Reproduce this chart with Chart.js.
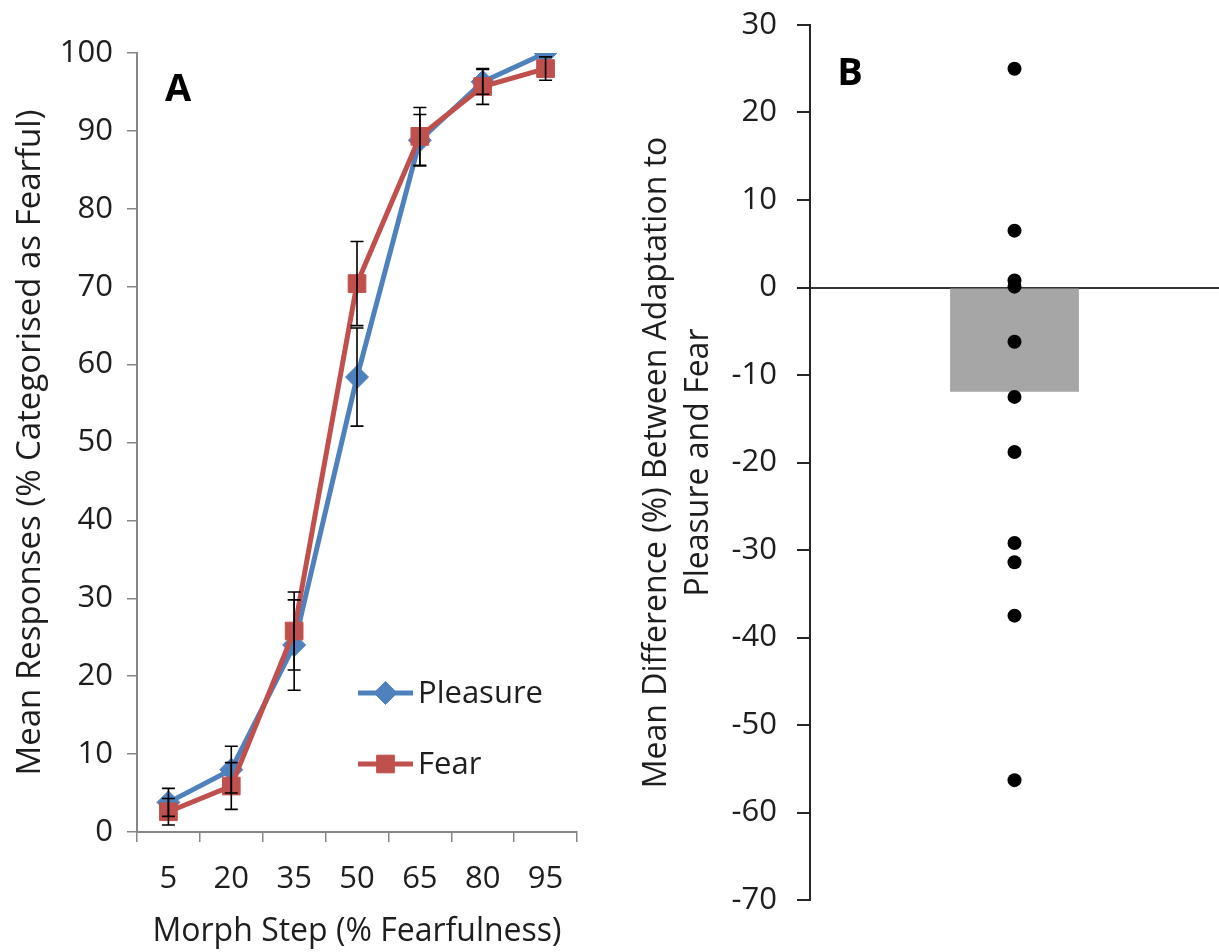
<!DOCTYPE html>
<html>
<head>
<meta charset="utf-8">
<title>Morph categorisation and adaptation difference</title>
<script src="https://cdn.jsdelivr.net/npm/chart.js@4/dist/chart.umd.min.js"></script>
<style>
  html, body { margin: 0; padding: 0; background: #fff; overflow: hidden; }
  #boxA { position: absolute; left: 0; top: 0; width: 610px; height: 952px; }
  #boxB { position: absolute; left: 620px; top: 0; width: 606px; height: 952px; }
</style>
</head>
<body>
<div id="boxA"><canvas id="chartA"></canvas></div>
<div id="boxB"><canvas id="chartB"></canvas></div>
<script>
// panel A: categorisation curves
const morphSteps = ['5', '20', '35', '50', '65', '80', '95'];
const pleasure = [3.8, 8.0, 24.0, 58.4, 88.8, 96.3, 100];
const pleasureErr = [1.8, 3.0, 5.8, 6.3, 3.3, 1.6, 0];
const fear = [2.6, 5.9, 25.8, 70.4, 89.3, 95.7, 98.0];
const fearErr = [1.7, 3.0, 5.0, 5.4, 3.7, 2.3, 1.5];
const responseTicks = [0, 10, 20, 30, 40, 50, 60, 70, 80, 90, 100];

// panel B: per-participant differences and their mean
const diffGroup = ['diff'];
const meanDiff = [-11.9];
const participantDiffs = [25, 6.5, 0.8, 0.1, -6.2, -12.5, -18.8, -29.2, -31.4, -37.5, -56.3];
const diffTicks = [30, 20, 10, 0, -10, -20, -30, -40, -50, -60, -70];

const BLUE = '#4F81BD';
const RED = '#C0504D';
const TEXT = '#1e1e1e';
const FONT = "'Open Sans', sans-serif";

Chart.defaults.font.family = FONT;
Chart.defaults.color = TEXT;
Chart.defaults.animation = false;
Chart.defaults.responsive = true;
Chart.defaults.maintainAspectRatio = false;

// vertical error bars with caps, one set per dataset
const errorBars = {
  id: 'errorBars',
  afterDatasetsDraw(chart, args, opts) {
    const ctx = chart.ctx;
    const xs = chart.scales.x, ys = chart.scales.y;
    ctx.save();
    ctx.strokeStyle = opts.color;
    ctx.lineWidth = opts.width;
    opts.sets.forEach(set => {
      set.values.forEach((v, i) => {
        const e = set.errors[i];
        if (!e) return;
        const x = xs.getPixelForValue(i);
        const top = ys.getPixelForValue(v + e);
        const bot = ys.getPixelForValue(v - e);
        ctx.beginPath();
        ctx.moveTo(x, top); ctx.lineTo(x, bot);
        ctx.moveTo(x - opts.cap, top); ctx.lineTo(x + opts.cap, top);
        ctx.moveTo(x - opts.cap, bot); ctx.lineTo(x + opts.cap, bot);
        ctx.stroke();
      });
    });
    ctx.restore();
  }
};

// legend sitting inside the plot, drawn from the dataset styles
const innerLegend = {
  id: 'innerLegend',
  afterDraw(chart, args, opts) {
    const ctx = chart.ctx;
    ctx.save();
    opts.items.forEach(item => {
      const ds = chart.data.datasets[item.index];
      ctx.strokeStyle = ds.borderColor;
      ctx.lineWidth = ds.borderWidth;
      ctx.beginPath();
      ctx.moveTo(opts.x, item.y);
      ctx.lineTo(opts.x + opts.len, item.y);
      ctx.stroke();
      ctx.fillStyle = ds.pointBackgroundColor;
      ctx.strokeStyle = ds.pointBorderColor;
      ctx.lineWidth = 1;
      Chart.helpers.drawPoint(ctx, {
        pointStyle: ds.pointStyle,
        radius: ds.pointRadius,
        borderWidth: 1
      }, opts.x + opts.len / 2, item.y);
      ctx.fillStyle = TEXT;
      ctx.font = opts.font;
      ctx.textBaseline = 'middle';
      ctx.fillText(ds.label, opts.x + opts.len + 5, item.y + 1);
    });
    ctx.restore();
  }
};

// bold panel letter
const panelLabel = {
  id: 'panelLabel',
  afterDraw(chart, args, opts) {
    const ctx = chart.ctx;
    ctx.save();
    ctx.font = 'bold 38px ' + FONT;
    ctx.fillStyle = '#000';
    ctx.textAlign = 'center';
    ctx.textBaseline = 'middle';
    ctx.fillText(opts.text, opts.x, opts.y);
    ctx.restore();
  }
};

new Chart(document.getElementById('chartA'), {
  type: 'line',
  data: {
    labels: morphSteps,
    datasets: [
      {
        label: 'Pleasure',
        data: pleasure,
        borderColor: BLUE,
        borderWidth: 5,
        pointStyle: 'rectRot',
        pointRadius: 11.5,
        pointBackgroundColor: BLUE,
        pointBorderColor: BLUE,
        pointBorderWidth: 1,
        order: 1
      },
      {
        label: 'Fear',
        data: fear,
        borderColor: RED,
        borderWidth: 5,
        pointStyle: 'rect',
        pointRadius: 12.5,
        pointBackgroundColor: RED,
        pointBorderColor: RED,
        pointBorderWidth: 1,
        order: 0
      }
    ]
  },
  options: {
    layout: { padding: { top: 53, right: 33, left: 0, bottom: 0 } },
    plugins: {
      legend: { display: false },
      tooltip: { enabled: false },
      errorBars: {
        color: '#000', width: 1.6, cap: 6.5,
        sets: [
          { values: pleasure, errors: pleasureErr },
          { values: fear, errors: fearErr }
        ]
      },
      innerLegend: {
        x: 358, len: 55, font: '31px ' + FONT,
        items: [{ index: 0, y: 693 }, { index: 1, y: 764 }]
      },
      panelLabel: { text: 'A', x: 178, y: 90 }
    },
    scales: {
      x: {
        type: 'category',
        offset: true,
        grid: { offset: true, drawOnChartArea: false, tickLength: 10, color: '#868686', lineWidth: 1.5 },
        border: { color: '#868686', width: 2 },
        ticks: { font: { size: 31 }, color: TEXT, padding: 19, maxRotation: 0 },
        title: {
          display: true,
          text: 'Morph Step (% Fearfulness)',
          font: { size: 32 },
          color: TEXT,
          padding: { top: 0, bottom: 1 }
        },
        afterFit(s) { s.height = 120; }
      },
      y: {
        min: 0, max: 100,
        afterBuildTicks(s) { s.ticks = responseTicks.map(v => ({ value: v })); },
        grid: { drawOnChartArea: false, tickLength: 10, color: '#868686', lineWidth: 1.5 },
        border: { color: '#868686', width: 2 },
        ticks: { font: { size: 31 }, color: TEXT, padding: 14 },
        title: {
          display: true,
          text: 'Mean Responses (% Categorised as Fearful)',
          font: { size: 33 },
          color: TEXT,
          padding: { top: 11, bottom: 0 }
        },
        afterFit(s) { s.width = 137; }
      }
    }
  },
  plugins: [errorBars, innerLegend, panelLabel]
});

new Chart(document.getElementById('chartB'), {
  type: 'bar',
  data: {
    labels: diffGroup,
    datasets: [
      {
        type: 'line',
        data: participantDiffs.map(v => ({ x: diffGroup[0], y: v })),
        showLine: false,
        pointRadius: 7,
        pointBackgroundColor: '#000',
        pointBorderColor: '#000',
        pointBorderWidth: 0,
        order: 0
      },
      {
        type: 'bar',
        data: meanDiff,
        backgroundColor: '#A6A6A6',
        borderWidth: 0,
        categoryPercentage: 1,
        barPercentage: 0.315,
        order: 1
      }
    ]
  },
  options: {
    layout: { padding: { top: 25, right: 0, left: 0, bottom: 52 } },
    plugins: {
      legend: { display: false },
      tooltip: { enabled: false },
      panelLabel: { text: 'B', x: 230, y: 74 }
    },
    scales: {
      x: { type: 'category', display: false, offset: true },
      y: {
        min: -70, max: 30,
        afterBuildTicks(s) { s.ticks = diffTicks.map(v => ({ value: v })); },
        grid: {
          drawOnChartArea: true,
          tickLength: 13,
          tickColor: '#262626',
          color: c => (c.tick && c.tick.value === 0 ? '#333333' : 'rgba(0,0,0,0)'),
          lineWidth: 2
        },
        border: { color: '#262626', width: 2 },
        ticks: { font: { size: 31 }, color: TEXT, padding: 20 },
        title: {
          display: true,
          text: ['Mean Difference (%) Between Adaptation to', 'Pleasure and Fear'],
          font: { size: 32, lineHeight: 1.34 },
          color: TEXT,
          padding: { top: 15, bottom: 0 }
        },
        afterFit(s) {
          s.width = 190;
          // the wide label padding should not push the plot area down
          s.paddingTop = 0;
          s.paddingBottom = 0;
        }
      }
    }
  },
  plugins: [panelLabel]
});
</script>
</body>
</html>
